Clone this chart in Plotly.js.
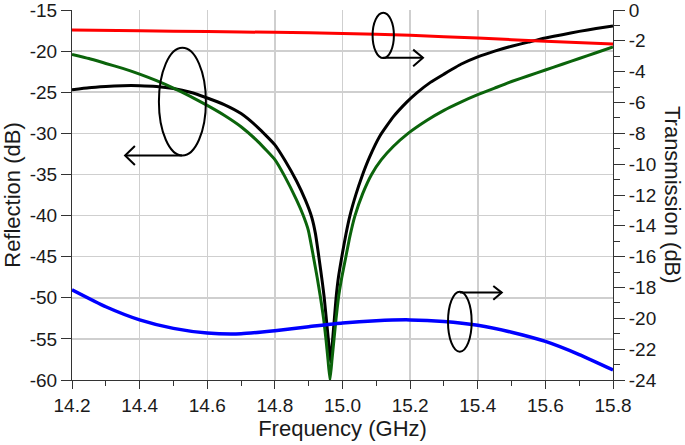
<!DOCTYPE html>
<html>
<head>
<meta charset="utf-8">
<script src="https://cdn.plot.ly/plotly-3.0.1.min.js"></script>
<style>
  html, body { margin: 0; padding: 0; background: #fff; }
  #chart { width: 685px; height: 445px; }
</style>
</head>
<body>
<div id="chart"></div>
<script>
// reflection curves (left axis, dB)
const freqBlack = [14.2, 14.25, 14.3, 14.35, 14.4, 14.45, 14.5, 14.55, 14.6, 14.65, 14.7, 14.75, 14.8, 14.83, 14.864, 14.89, 14.909, 14.92, 14.93, 14.94, 14.946, 14.952, 14.958, 14.962, 14.965, 14.968, 14.971, 14.976, 14.981, 14.988, 14.998, 15.01, 15.022, 15.04, 15.057, 15.08, 15.111, 15.15, 15.19, 15.219, 15.26, 15.3, 15.35, 15.4, 15.45, 15.5, 15.55, 15.6, 15.65, 15.7, 15.75, 15.8];
const reflBlack = [-24.7, -24.45, -24.3, -24.2, -24.2, -24.3, -24.55, -25.0, -25.7, -26.5, -27.6, -29.3, -31.4, -33.3, -35.8, -38.1, -40.2, -42.2, -45, -48, -50, -52.5, -55, -56.8, -57.8, -56.5, -55, -52.5, -50, -47.5, -45, -42.3, -40, -37.4, -35.3, -32.9, -30.3, -28.0, -26.2, -25.1, -23.8, -22.8, -21.6, -20.7, -20.0, -19.4, -18.9, -18.4, -18.0, -17.6, -17.25, -16.95];

const freqGreen = [14.2, 14.25, 14.3, 14.35, 14.4, 14.45, 14.5, 14.55, 14.6, 14.65, 14.7, 14.75, 14.8, 14.83, 14.864, 14.884, 14.899, 14.914, 14.925, 14.935, 14.944, 14.951, 14.957, 14.963, 14.969, 14.975, 14.981, 14.988, 14.998, 15.01, 15.022, 15.037, 15.06, 15.086, 15.115, 15.15, 15.194, 15.25, 15.3, 15.35, 15.4, 15.45, 15.5, 15.55, 15.6, 15.65, 15.7, 15.75, 15.8];
const reflGreen = [-20.4, -20.9, -21.5, -22.1, -22.8, -23.6, -24.5, -25.5, -26.6, -27.8, -29.2, -31.0, -33.2, -35.3, -38.1, -40, -41.8, -45, -47.5, -50, -52.5, -55, -57.5, -60, -57.5, -55, -52.5, -50, -47.5, -45, -42.5, -40, -37.3, -35, -33.2, -31.6, -30.0, -28.4, -27.2, -26.2, -25.3, -24.5, -23.7, -23.0, -22.3, -21.6, -20.9, -20.2, -19.5];

// transmission curves (right axis, dB)
const freqRed = [14.2, 14.4, 14.6, 14.8, 15.0, 15.2, 15.4, 15.6, 15.8];
const transRed = [-1.3, -1.35, -1.4, -1.45, -1.52, -1.64, -1.82, -2.03, -2.2];

const freqBlue = [14.2, 14.3, 14.4, 14.5, 14.6, 14.7, 14.8, 14.9, 15.0, 15.1, 15.2, 15.3, 15.4, 15.5, 15.6, 15.7, 15.8];
const transBlue = [-18.15, -19.25, -20.1, -20.65, -20.95, -21.0, -20.8, -20.55, -20.3, -20.15, -20.1, -20.2, -20.45, -20.9, -21.5, -22.35, -23.35];

// tick labels
const leftTickVals = [-60, -55, -50, -45, -40, -35, -30, -25, -20, -15];
const leftTickText = ["-60", "-55", "-50", "-45", "-40", "-35", "-30", "-25", "-20", "-15"];
const rightTickVals = [-24, -22, -20, -18, -16, -14, -12, -10, -8, -6, -4, -2, 0];
const rightTickText = ["-24", "-22", "-20", "-18", "-16", "-14", "-12", "-10", "-8", "-6", "-4", "-2", "0"];

const FONT = "Liberation Sans, Arial, sans-serif";
const INK = "#1a1a1a";
const tickFont = { family: FONT, size: 19, color: INK };
const titleFont = { family: FONT, size: 22, color: INK };

const traces = [
    { x: freqBlack, y: reflBlack, type: "scatter", mode: "lines", yaxis: "y",
      line: { color: "#000000", width: 3, shape: "spline", smoothing: 0.4 }, hoverinfo: "skip" },
    { x: freqGreen, y: reflGreen, type: "scatter", mode: "lines", yaxis: "y",
      line: { color: "#0b640b", width: 3, shape: "spline", smoothing: 0.4 }, hoverinfo: "skip" },
    { x: freqRed, y: transRed, type: "scatter", mode: "lines", yaxis: "y2",
      line: { color: "#ff0000", width: 3, shape: "spline", smoothing: 0.5 }, hoverinfo: "skip" },
    { x: freqBlue, y: transBlue, type: "scatter", mode: "lines", yaxis: "y2",
      line: { color: "#0000ff", width: 3.5, shape: "spline", smoothing: 0.6 }, hoverinfo: "skip" }
];

const stroke = { color: "#000000", width: 2 };

const layout = {
    width: 685,
    height: 445,
    margin: { l: 72, r: 72, t: 10, b: 65 },
    paper_bgcolor: "#ffffff",
    plot_bgcolor: "#ffffff",
    showlegend: false,
    font: { family: FONT, color: INK },
    xaxis: {
        range: [14.2, 15.8],
        tick0: 14.2, dtick: 0.2, tickformat: ".1f",
        ticks: "outside", ticklen: 8, tickcolor: "#333",
        minor: { dtick: 0.1, ticks: "outside", ticklen: 5, tickcolor: "#333", showgrid: false },
        showgrid: true, gridcolor: "#cfcfcf", gridwidth: 1.5,
        showline: true, linecolor: "#333", linewidth: 1,
        zeroline: false,
        tickfont: tickFont,
        title: { text: "Frequency (GHz)", font: titleFont, standoff: 2 }
    },
    yaxis: {
        range: [-60, -15],
        tickmode: "array", tickvals: leftTickVals, ticktext: leftTickText,
        ticks: "outside", ticklen: 10, tickcolor: "#333",
        ticklabeloverflow: "allow",
        showgrid: true, gridcolor: "#cfcfcf", gridwidth: 1.5,
        showline: true, linecolor: "#333", linewidth: 1,
        zeroline: false,
        tickfont: tickFont,
        title: { text: "Reflection (dB)", font: titleFont, standoff: 4 }
    },
    yaxis2: {
        range: [-24, 0],
        overlaying: "y", side: "right",
        tickmode: "array", tickvals: rightTickVals, ticktext: rightTickText,
        ticks: "outside", ticklen: 11, tickcolor: "#333",
        ticklabeloverflow: "allow",
        minor: { tickmode: "linear", tick0: 0, dtick: 1, ticks: "outside", ticklen: 6, tickcolor: "#333", showgrid: false },
        showgrid: false,
        showline: true, linecolor: "#333", linewidth: 1,
        zeroline: false,
        tickfont: tickFont
    },
    annotations: [
        { text: "Transmission (dB)", xref: "paper", yref: "paper", x: 1.111, y: 0.5,
          xanchor: "center", yanchor: "middle", textangle: 90, showarrow: false,
          font: titleFont }
    ],
    shapes: [
        // reflection group marker
        { type: "circle", xref: "x", yref: "y", x0: 14.457, x1: 14.596, y0: -32.7, y1: -19.6, line: stroke },
        { type: "path", xref: "x", yref: "y", path: "M14.525,-32.7 L14.357,-32.7", line: stroke },
        { type: "path", xref: "x", yref: "y", path: "M14.386,-31.55 L14.357,-32.7 L14.386,-33.85", line: stroke },
        // red transmission marker
        { type: "circle", xref: "x", yref: "y2", x0: 15.089, x1: 15.152, y0: -3.12, y1: -0.18, line: stroke },
        { type: "path", xref: "x", yref: "y2", path: "M15.12,-3.1 L15.238,-3.1", line: stroke },
        { type: "path", xref: "x", yref: "y2", path: "M15.209,-2.57 L15.238,-3.1 L15.209,-3.65", line: stroke },
        // blue transmission marker
        { type: "circle", xref: "x", yref: "y2", x0: 15.312, x1: 15.382, y0: -22.16, y1: -18.27, line: stroke },
        { type: "path", xref: "x", yref: "y2", path: "M15.347,-18.33 L15.471,-18.33", line: stroke },
        { type: "path", xref: "x", yref: "y2", path: "M15.446,-17.9 L15.471,-18.33 L15.446,-18.8", line: stroke }
    ]
};

Plotly.newPlot("chart", traces, layout, { staticPlot: true, displayModeBar: false });
</script>
</body>
</html>
